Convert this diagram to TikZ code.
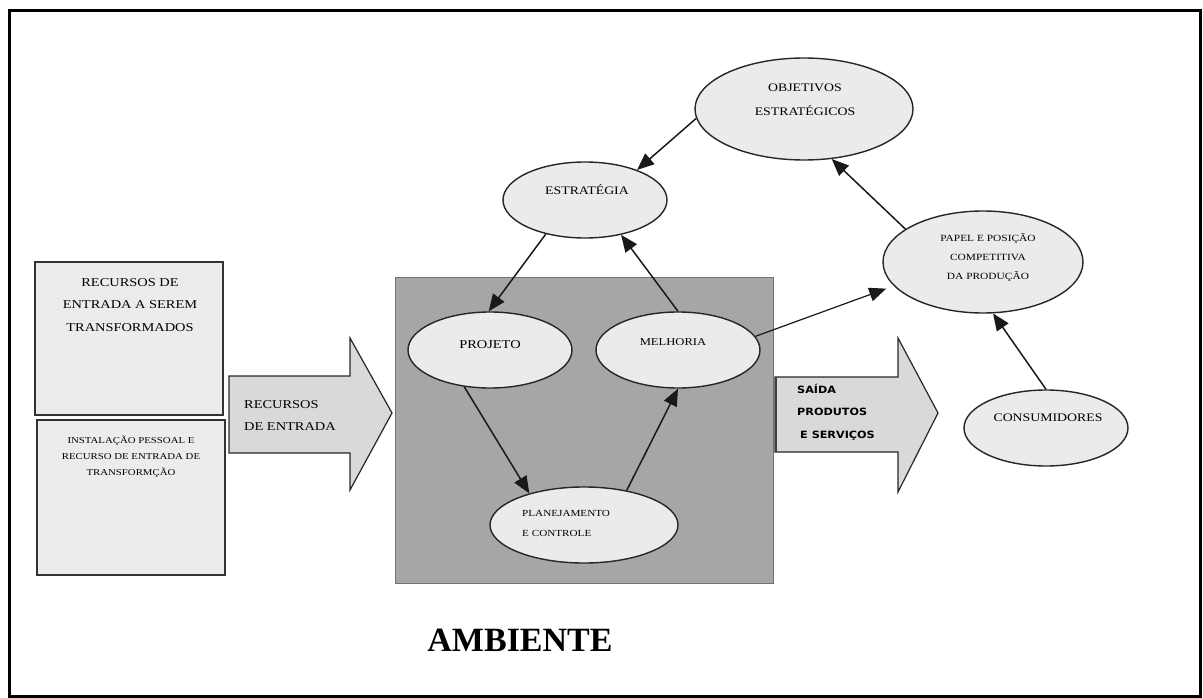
\documentclass[tikz,border=0pt]{standalone}
\usepackage{fontspec}
\setmainfont{Liberation Serif}
\newfontfamily\lblfont[FakeStretch=1.2]{Liberation Serif}
\newfontfamily\saidafont[FakeStretch=1.12]{DejaVu Sans}
\usetikzlibrary{arrows.meta,shapes.geometric}
\definecolor{ellfill}{RGB}{235,235,235}
\definecolor{boxfill}{RGB}{236,236,236}
\definecolor{arrfill}{RGB}{217,217,217}
\definecolor{envfill}{RGB}{166,166,166}
\begin{document}
\begin{tikzpicture}[x=1pt,y=-1pt,
  ell/.style={ellipse, draw=black!85, line width=1.4pt, fill=ellfill, inner sep=0pt},
  inbox/.style={draw=black!80, line width=2pt, fill=boxfill},
  blockarrow/.style={draw=black!85, line width=1.2pt, fill=arrfill},
  conn/.style={line width=1.5pt, black!90, -{Triangle[length=17pt,width=14pt]}},
  lbl/.style={inner sep=0pt, align=center, text=black},
  lblleft/.style={inner sep=0pt, align=left, text=black, anchor=west}]
\useasboundingbox (0,0) rectangle (1203,698);
% frame
\draw[line width=3pt] (9,11) rectangle (1200,696);
% left boxes
\draw[inbox] (35,262) rectangle (223,415);
\draw[inbox] (37,420) rectangle (225,575);
\node[lbl, font={\lblfont\fontsize{12}{22.5}\selectfont}] (t1) at (130,305) {RECURSOS DE\\ENTRADA A SEREM\\TRANSFORMADOS};
\node[lbl, font={\lblfont\fontsize{9}{16}\selectfont}] (t2) at (131,457) {INSTALAÇÃO PESSOAL E\\RECURSO DE ENTRADA DE\\TRANSFORMÇÃO};
% input arrow
\draw[blockarrow] (229,376) -- (350,376) -- (350,338) -- (392,413) -- (350,490) -- (350,453) -- (229,453) -- cycle;
\node[lblleft, font={\lblfont\fontsize{12}{22}\selectfont}] (t3) at (244,416) {RECURSOS\\DE ENTRADA};
% environment rectangle
\draw[fill=envfill, draw=black!55, line width=1pt] (395,277) rectangle (773,583);
% output arrow
\draw[blockarrow] (775,377) -- (898,377) -- (898,338) -- (938,413) -- (898,492) -- (898,452) -- (775,452) -- cycle;
\draw[line width=2.5pt, black!75] (776,377) -- (776,452);
\node[lblleft, font={\saidafont\bfseries\fontsize{10}{22.5}\selectfont}] (t4) at (797,412) {SAÍDA\\PRODUTOS\\\hspace{3pt}E SERVIÇOS};
% ellipses
\node[ell, minimum width=218pt, minimum height=102pt] (obj) at (804,109) {};
\node[ell, minimum width=164pt, minimum height=76pt] (est) at (585,200) {};
\node[ell, minimum width=200pt, minimum height=102pt] (pap) at (983,262) {};
\node[ell, minimum width=164pt, minimum height=76pt] (proj) at (490,350) {};
\node[ell, minimum width=164pt, minimum height=76pt] (mel) at (678,350) {};
\node[ell, minimum width=188pt, minimum height=76pt] (plan) at (584,525) {};
\node[ell, minimum width=164pt, minimum height=76pt] (cons) at (1046,428) {};
% ellipse texts
\node[lbl, font={\lblfont\fontsize{11.5}{24}\selectfont}] (objt) at (805,100) {OBJETIVOS\\ESTRATÉGICOS};
\node[lbl, font={\lblfont\fontsize{11.5}{14}\selectfont}] (estt) at (587,190) {ESTRATÉGIA};
\node[lbl, font={\lblfont\fontsize{9.5}{19}\selectfont}] (papt) at (988,258) {PAPEL E POSIÇÃO\\COMPETITIVA\\DA PRODUÇÃO};
\node[lbl, font={\lblfont\fontsize{12}{14}\selectfont}] (projt) at (490,345) {PROJETO};
\node[lbl, font={\lblfont\fontsize{10.5}{14}\selectfont}] (melt) at (673,342) {MELHORIA};
\node[lblleft, font={\lblfont\fontsize{9.3}{20}\selectfont}] (plant) at (522,523) {PLANEJAMENTO\\E CONTROLE};
\node[lbl, font={\lblfont\fontsize{11.5}{14}\selectfont}] (const) at (1048,418) {CONSUMIDORES};
% connectors
\draw[conn] (obj.185) -- (est.30);
\draw[conn] (est.221) -- (proj.92);
\draw[conn] (mel.90) -- (est.-44);
\draw[conn] (proj.235) -- (plan.150);
\draw[conn] (plan.39) -- (mel.270);
\draw[conn, line width=1.2pt, shorten >=8pt] (mel.10) -- (pap.195);
\draw[conn] (pap.157) -- (obj.-61);
\draw[conn] (cons.90) -- (pap.-79);
% title
\node[inner sep=0pt, font={\fontsize{34}{40}\selectfont\bfseries}] (amb) at (520,640) {AMBIENTE};
\end{tikzpicture}
\end{document}
